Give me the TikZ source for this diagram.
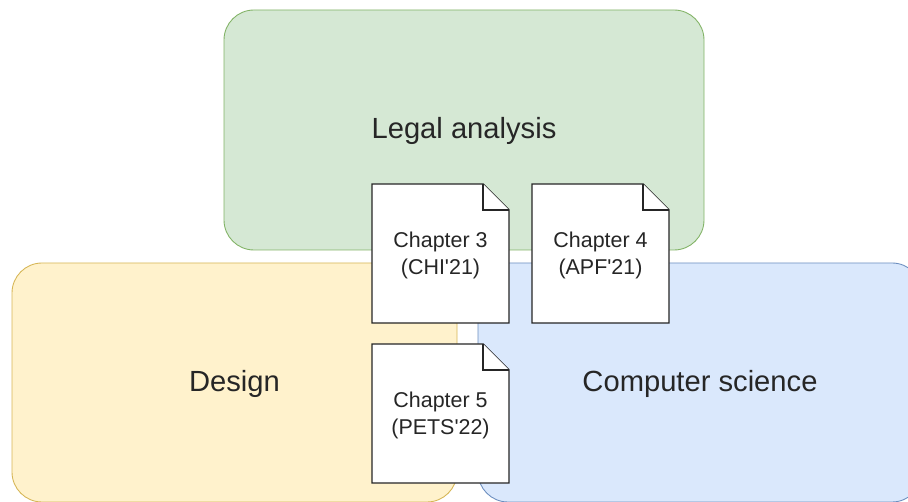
\documentclass[tikz,border=0pt]{standalone}
\usepackage{fontspec}
\setmainfont{Liberation Sans}

\definecolor{legalfill}{HTML}{D5E8D4}
\definecolor{legalline}{HTML}{82B366}
\definecolor{designfill}{HTML}{FFF2CC}
\definecolor{designline}{HTML}{D6B656}
\definecolor{csfill}{HTML}{DAE8FC}
\definecolor{csline}{HTML}{6C8EBF}

\tikzset{
  area/.style={rounded corners=0.6cm, line width=0.5pt},
  paper/.style={fill=white, draw=black!85, line width=0.8pt, line join=miter},
  chap/.style={align=center, inner sep=0pt, text=black!85,
    font=\fontsize{12.2}{15.4}\selectfont},
  field/.style={inner sep=0pt, text=black!85, font=\fontsize{16.6}{20}\selectfont}
}

\begin{document}
\begin{tikzpicture}[x=0.02cm, y=-0.02cm]
\clip (0,0) rectangle (908,502);
\useasboundingbox (0,0) rectangle (908,502);

% the three fields
\draw[area, fill=legalfill, draw=legalline] (224,10) rectangle (704,250);
\draw[area, fill=designfill, draw=designline] (12,263) rectangle (457,502);
\draw[area, fill=csfill, draw=csline] (478,263) rectangle (922,502);

\node[field] (legal) at (464,131) {Legal analysis};
\node[field] (design) at (234.5,384) {Design};
\node[field] (cs) at (700,384) {Computer science};

% chapters as folded sheets
\foreach \nm/\x/\y/\txt in {ch3/440.5/253.5/{Chapter 3\\(CHI\textquotesingle 21)},
                           ch4/600.5/253.5/{Chapter 4\\(APF\textquotesingle 21)},
                           ch5/440.5/413.5/{Chapter 5\\(PETS\textquotesingle 22)}}{
  \filldraw[paper] (\x-68.5,\y-69.5) -- (\x+42.5,\y-69.5) -- (\x+68.5,\y-43.5)
    -- (\x+68.5,\y+69.5) -- (\x-68.5,\y+69.5) -- cycle;
  \draw[paper] (\x+42.5,\y-69.5) |- (\x+68.5,\y-43.5);
  \node[chap] (\nm) at (\x,\y+2) {\txt};
}
\end{tikzpicture}
\end{document}
